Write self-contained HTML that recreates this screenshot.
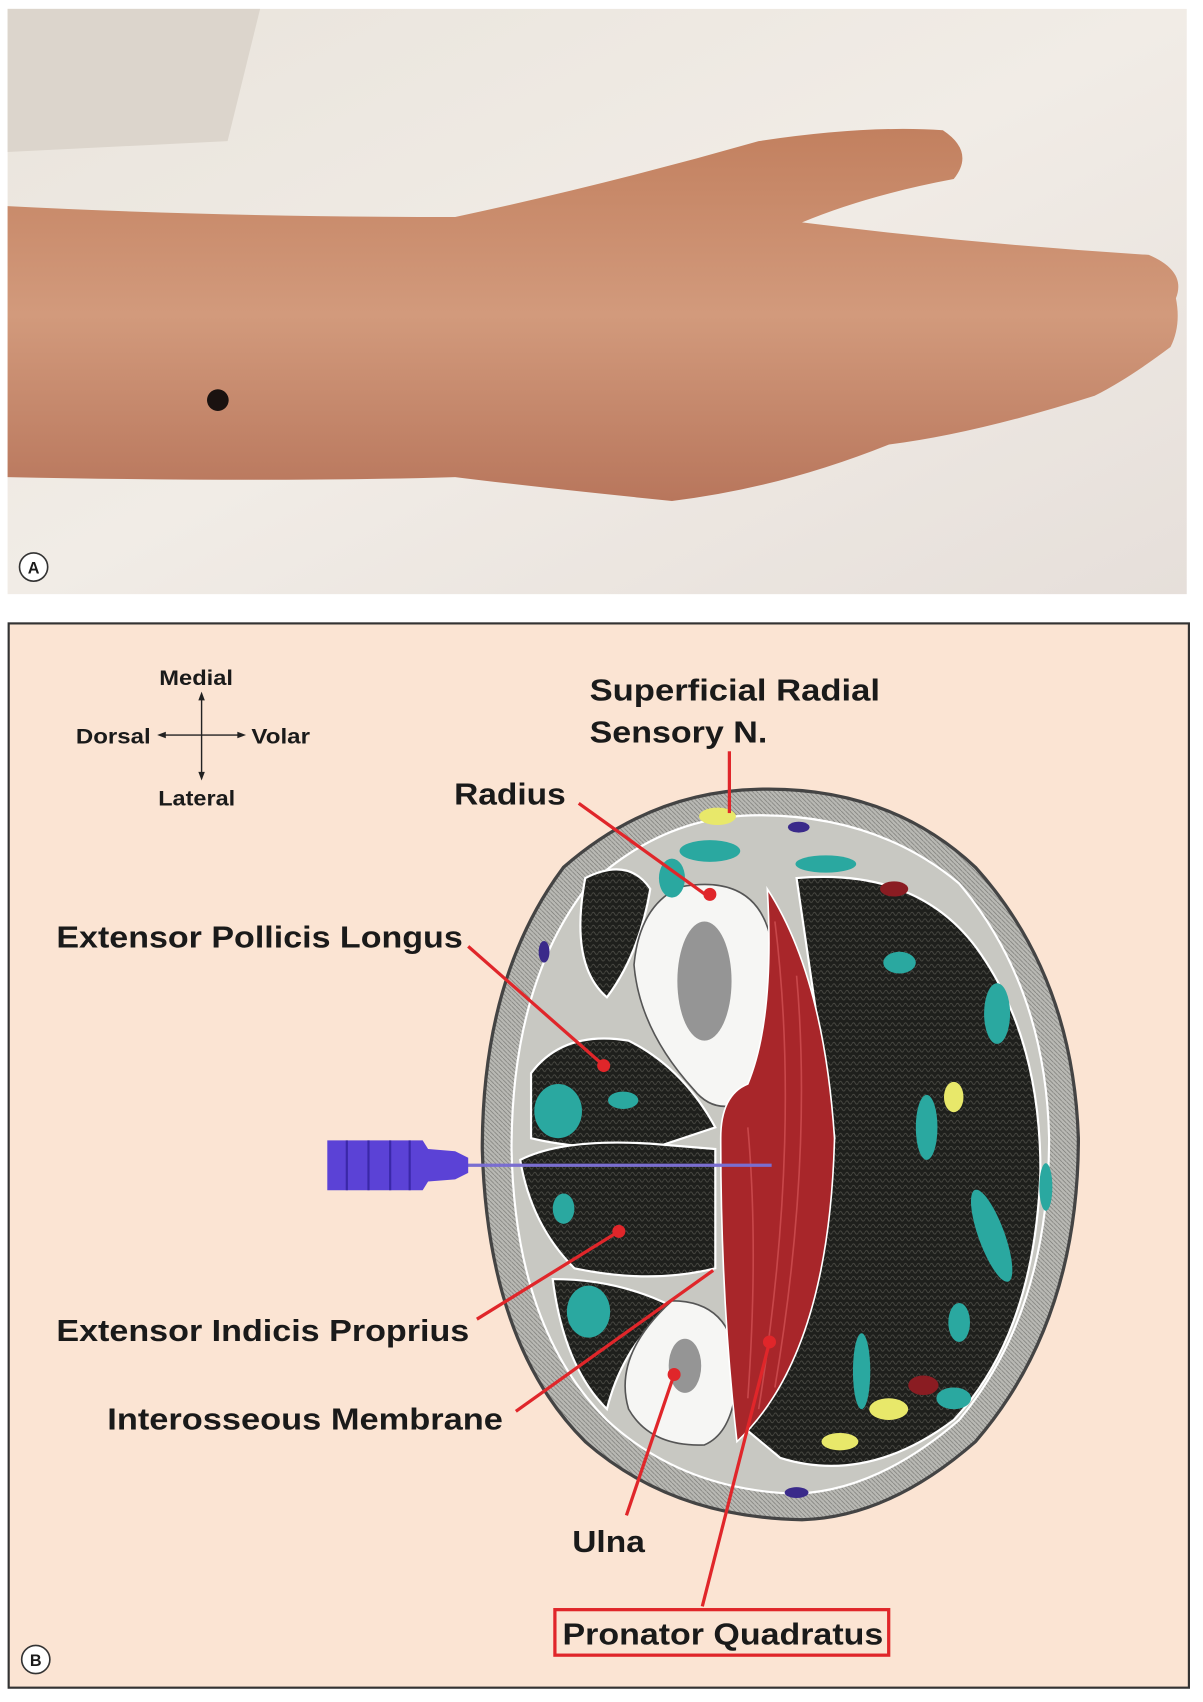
<!DOCTYPE html>
<html><head><meta charset="utf-8"><style>
html,body{margin:0;padding:0;background:#fff}
svg{display:block}
text{font-family:"Liberation Sans",Arial,sans-serif;font-weight:bold;fill:#1a1a1a}
</style></head><body>
<svg width="1203" height="1702" viewBox="0 0 1110 1570" xmlns="http://www.w3.org/2000/svg">
<defs>
<linearGradient id="sheet" x1="0" y1="0" x2="1" y2="1">
<stop offset="0" stop-color="#e9e4dc"/><stop offset="0.5" stop-color="#f1ece6"/><stop offset="1" stop-color="#e6dfda"/></linearGradient>
<linearGradient id="skin" x1="0" y1="0" x2="0" y2="1">
<stop offset="0" stop-color="#c2805f"/><stop offset="0.5" stop-color="#d29a7c"/><stop offset="1" stop-color="#b8765c"/></linearGradient>
<pattern id="dk" width="6" height="6" patternUnits="userSpaceOnUse"><rect width="6" height="6" fill="#1e1f1c"/><path d="M0 3 Q1.5 0 3 3 T6 3" stroke="#4a4a44" stroke-width="0.8" fill="none"/></pattern>
<pattern id="gr" width="4" height="4" patternUnits="userSpaceOnUse"><rect width="4" height="4" fill="#b9b9b4"/><path d="M0 0L4 4" stroke="#7a7a76" stroke-width="0.7"/></pattern>
</defs>
<!-- Panel A -->
<rect x="7" y="8" width="1088" height="540" fill="url(#sheet)"/>
<path d="M7 8 L240 8 L210 130 L7 140 Z" fill="#dcd5cc"/>
<path d="M7 190 Q200 200 420 200 Q560 170 700 130 Q800 115 870 120 Q900 140 880 165 Q800 180 740 205 Q900 225 1060 235 Q1095 250 1085 275 Q1090 300 1080 320 Q1040 350 1010 365 Q900 400 820 410 Q720 450 620 462 Q500 450 420 440 Q250 445 7 440 Z" fill="url(#skin)"/>
<circle cx="201" cy="369" r="10" fill="#1a1210"/>
<circle cx="31" cy="523" r="13" fill="#fff" stroke="#333" stroke-width="1.5"/>
<text x="31" y="529" text-anchor="middle" font-size="15" font-weight="normal">A</text>
<!-- Panel B -->
<rect x="8" y="575" width="1089" height="982" fill="#fbe4d3" stroke="#333" stroke-width="2"/>
<circle cx="33" cy="1531" r="13" fill="#fff" stroke="#333" stroke-width="1.5"/>
<text x="33" y="1537" text-anchor="middle" font-size="15" font-weight="normal">B</text>
<!-- compass -->
<g stroke="#222" stroke-width="1.3" fill="#222">
<line x1="186" y1="643" x2="186" y2="715"/><line x1="150" y1="678" x2="222" y2="678"/>
<path d="M186 638l-3 8h6z M186 720l-3-8h6z M145 678l8-3v6z M227 678l-8-3v6z" stroke="none"/></g>
<text x="147" y="632" font-size="20" textLength="68" lengthAdjust="spacingAndGlyphs">Medial</text>
<text x="70" y="686" font-size="20" textLength="69" lengthAdjust="spacingAndGlyphs">Dorsal</text>
<text x="232" y="686" font-size="20" textLength="54" lengthAdjust="spacingAndGlyphs">Volar</text>
<text x="146" y="743" font-size="20" textLength="71" lengthAdjust="spacingAndGlyphs">Lateral</text>
<!-- cross section -->
<path d="M700 728 Q820 725 900 800 Q990 900 995 1050 Q995 1220 900 1330 Q820 1400 740 1402 Q620 1400 540 1330 Q450 1240 445 1060 Q445 900 520 800 Q600 730 700 728Z" fill="url(#gr)" stroke="#444" stroke-width="3"/>
<path d="M700 752 Q810 752 885 815 Q965 910 968 1050 Q968 1210 885 1310 Q810 1375 735 1378 Q630 1375 560 1310 Q475 1225 472 1060 Q472 910 540 820 Q610 752 700 752Z" fill="#c8c8c2" stroke="#fff" stroke-width="2"/>
<!-- dark muscles -->
<path d="M735 810 Q850 800 905 880 Q960 960 960 1080 Q955 1230 880 1310 Q800 1370 720 1345 L690 1320 L770 1050 Z" fill="url(#dk)" stroke="#fff" stroke-width="2"/>
<path d="M490 990 Q520 950 580 960 Q630 985 660 1040 L600 1060 Q530 1060 490 1050Z" fill="url(#dk)" stroke="#fff" stroke-width="2"/>
<path d="M480 1070 Q520 1050 600 1055 L660 1060 L660 1170 Q600 1185 530 1170 Q490 1130 480 1070Z" fill="url(#dk)" stroke="#fff" stroke-width="2"/>
<path d="M510 1180 Q570 1180 620 1205 Q575 1240 560 1300 Q520 1260 510 1180Z" fill="url(#dk)" stroke="#fff" stroke-width="2"/>
<path d="M540 810 Q580 790 600 820 Q590 880 560 920 Q525 890 540 810Z" fill="url(#dk)" stroke="#fff" stroke-width="2"/>
<!-- bones -->
<path d="M628 818 Q700 805 712 870 Q715 960 690 1015 Q660 1030 640 1005 Q590 950 585 890 Q590 835 628 818Z" fill="#f6f6f4" stroke="#555" stroke-width="1.5"/>
<ellipse cx="650" cy="905" rx="25" ry="55" fill="#555" opacity="0.6"/>
<path d="M620 1200 Q675 1200 680 1260 Q680 1320 650 1333 Q600 1335 580 1300 Q565 1250 620 1200Z" fill="#f6f6f4" stroke="#555" stroke-width="1.5"/>
<ellipse cx="632" cy="1260" rx="15" ry="25" fill="#555" opacity="0.6"/>
<!-- pronator quadratus -->
<path d="M708 820 Q760 900 770 1050 Q765 1250 680 1330 Q665 1200 665 1050 Q665 1010 690 1000 Q715 940 708 820Z" fill="#a8262a" stroke="#fff" stroke-width="1.5"/>
<g stroke="#c8474a" stroke-width="1.5" fill="none"><path d="M715 850 Q740 1050 700 1300"/><path d="M735 900 Q750 1070 715 1280"/><path d="M690 1040 Q700 1150 690 1290"/></g>
<!-- colored bits -->
<g fill="#2aa8a0">
<ellipse cx="655" cy="785" rx="28" ry="10"/><ellipse cx="620" cy="810" rx="12" ry="18"/><ellipse cx="762" cy="797" rx="28" ry="8"/>
<ellipse cx="515" cy="1025" rx="22" ry="25"/><ellipse cx="575" cy="1015" rx="14" ry="8"/><ellipse cx="520" cy="1115" rx="10" ry="14"/>
<ellipse cx="543" cy="1210" rx="20" ry="24"/><ellipse cx="920" cy="935" rx="12" ry="28"/><ellipse cx="830" cy="888" rx="15" ry="10"/>
<ellipse cx="965" cy="1095" rx="6" ry="22"/><ellipse cx="855" cy="1040" rx="10" ry="30"/><ellipse cx="915" cy="1140" rx="12" ry="45" transform="rotate(-20 915 1140)"/>
<ellipse cx="885" cy="1220" rx="10" ry="18"/><ellipse cx="795" cy="1265" rx="8" ry="35"/><ellipse cx="880" cy="1290" rx="16" ry="10"/></g>
<g fill="#e8e86a"><ellipse cx="662" cy="753" rx="17" ry="8"/><ellipse cx="880" cy="1012" rx="9" ry="14"/><ellipse cx="820" cy="1300" rx="18" ry="10"/><ellipse cx="775" cy="1330" rx="17" ry="8"/></g>
<g fill="#8a1c22"><ellipse cx="825" cy="820" rx="13" ry="7"/><ellipse cx="852" cy="1278" rx="14" ry="9"/></g>
<g fill="#3a2a8a"><ellipse cx="737" cy="763" rx="10" ry="5"/><ellipse cx="502" cy="878" rx="5" ry="10"/><ellipse cx="735" cy="1377" rx="11" ry="5"/></g>
<!-- needle -->
<line x1="420" y1="1075" x2="712" y2="1075" stroke="#7a6ed0" stroke-width="3"/>
<path d="M302 1052 L390 1052 L395 1060 L420 1062 L432 1068 L432 1082 L420 1088 L395 1090 L390 1098 L302 1098 Z" fill="#5b42d6"/>
<g stroke="#3a28a8" stroke-width="2"><line x1="320" y1="1052" x2="320" y2="1098"/><line x1="340" y1="1052" x2="340" y2="1098"/><line x1="360" y1="1052" x2="360" y2="1098"/><line x1="378" y1="1052" x2="378" y2="1098"/></g>
<!-- leader lines -->
<g stroke="#e0262a" stroke-width="3" fill="none">
<line x1="673" y1="693" x2="673" y2="750"/>
<line x1="534" y1="741" x2="652" y2="826"/>
<line x1="432" y1="873" x2="556" y2="982"/>
<line x1="440" y1="1217" x2="571" y2="1136"/>
<line x1="476" y1="1302" x2="658" y2="1172"/>
<line x1="578" y1="1398" x2="622" y2="1268"/>
<line x1="648" y1="1482" x2="710" y2="1238"/>
</g>
<g fill="#e0262a"><circle cx="655" cy="825" r="6"/><circle cx="557" cy="983" r="6"/><circle cx="571" cy="1136" r="6"/><circle cx="622" cy="1268" r="6"/><circle cx="710" cy="1238" r="6"/></g>
<!-- labels -->
<text x="544" y="646" font-size="28" textLength="268" lengthAdjust="spacingAndGlyphs">Superficial Radial</text>
<text x="544" y="685" font-size="28" textLength="164" lengthAdjust="spacingAndGlyphs">Sensory N.</text>
<text x="419" y="742" font-size="28" textLength="103" lengthAdjust="spacingAndGlyphs">Radius</text>
<text x="52" y="874" font-size="28" textLength="375" lengthAdjust="spacingAndGlyphs">Extensor Pollicis Longus</text>
<text x="52" y="1237" font-size="28" textLength="381" lengthAdjust="spacingAndGlyphs">Extensor Indicis Proprius</text>
<text x="99" y="1319" font-size="28" textLength="365" lengthAdjust="spacingAndGlyphs">Interosseous Membrane</text>
<text x="528" y="1432" font-size="28" textLength="67" lengthAdjust="spacingAndGlyphs">Ulna</text>
<rect x="512" y="1485" width="308" height="42" fill="none" stroke="#e0262a" stroke-width="3"/>
<text x="519" y="1517" font-size="28" textLength="296" lengthAdjust="spacingAndGlyphs">Pronator Quadratus</text>
</svg>
</body></html>
